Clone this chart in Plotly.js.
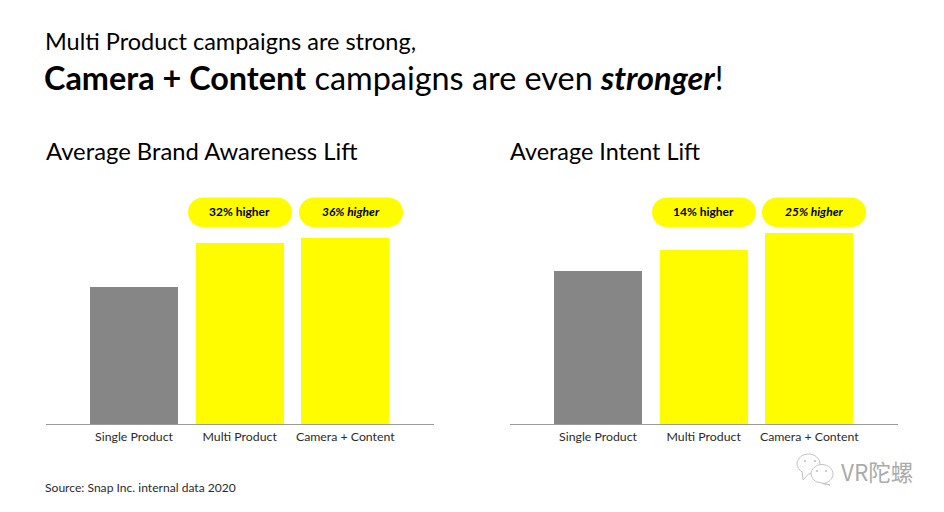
<!DOCTYPE html>
<html>
<head>
<meta charset="utf-8">
<script src="https://cdn.plot.ly/plotly-3.0.1.min.js"></script>
<style>html,body{margin:0;padding:0;background:#fff}#c{width:944px;height:512px}text{font-variant-ligatures:none}</style>
</head>
<body>
<div id="c"></div>
<script>
const categories = ["Single Product", "Multi Product", "Camera + Content"];
const awarenessValues = [100, 132, 136];
const intentValues = [100, 114, 125];
const barColors = ["#868686", "#FFFC00", "#FFFC00"];
const awarenessBadges = ["32% higher", "<i>36% higher</i>"];
const intentBadges = ["14% higher", "<i>25% higher</i>"];

const W = 944, H = 512;
const FONT = "Lato, 'Open Sans', sans-serif";
const px = x => x / W;
const py = y => 1 - y / H;

function pill(x0, x1, y0, y1) {
  const r = (y1 - y0) / 2, k = r * 0.55;
  const X = v => px(v), Y = v => py(v);
  return {
    type: "path", xref: "paper", yref: "paper", layer: "above",
    fillcolor: "#FFFC00", line: {width: 0},
    path: `M${X(x0 + r)},${Y(y0)} L${X(x1 - r)},${Y(y0)} ` +
      `C${X(x1 - r + k)},${Y(y0)} ${X(x1)},${Y(y0 + r - k)} ${X(x1)},${Y(y0 + r)} ` +
      `C${X(x1)},${Y(y0 + r + k)} ${X(x1 - r + k)},${Y(y1)} ${X(x1 - r)},${Y(y1)} ` +
      `L${X(x0 + r)},${Y(y1)} ` +
      `C${X(x0 + r - k)},${Y(y1)} ${X(x0)},${Y(y0 + r + k)} ${X(x0)},${Y(y0 + r)} ` +
      `C${X(x0)},${Y(y0 + r - k)} ${X(x0 + r - k)},${Y(y0)} ${X(x0 + r)},${Y(y0)} Z`
  };
}

function text(x, y, t, size, opts) {
  return Object.assign({
    xref: "paper", yref: "paper", x: px(x), y: py(y), text: t,
    showarrow: false, xanchor: "left", yanchor: "middle",
    font: {family: FONT, size: size, color: "#000"}
  }, opts || {});
}

function badge(cx, t) {
  return text(cx, 211, "<b>" + t + "</b>", 12, {xanchor: "center"});
}

function bubble(cx, cy, rx, ry, tx, ty) {
  const X = v => px(v), Y = v => py(v), k = 0.55;
  return {
    type: "path", xref: "paper", yref: "paper",
    fillcolor: "rgba(255,255,255,0.9)", line: {color: "#c4c4c4", width: 1},
    path: `M${X(cx - rx)},${Y(cy)} ` +
      `C${X(cx - rx)},${Y(cy - k * ry)} ${X(cx - k * rx)},${Y(cy - ry)} ${X(cx)},${Y(cy - ry)} ` +
      `C${X(cx + k * rx)},${Y(cy - ry)} ${X(cx + rx)},${Y(cy - k * ry)} ${X(cx + rx)},${Y(cy)} ` +
      `C${X(cx + rx)},${Y(cy + k * ry)} ${X(cx + k * rx)},${Y(cy + ry)} ${X(cx)},${Y(cy + ry)} ` +
      `L${X(tx)},${Y(ty)} L${X(cx - rx * 0.55)},${Y(cy + ry * 0.8)} ` +
      `C${X(cx - rx * 0.8)},${Y(cy + ry * 0.6)} ${X(cx - rx)},${Y(cy + ry * 0.3)} ${X(cx - rx)},${Y(cy)} Z`
  };
}

function dot(cx, cy) {
  return {type: "circle", xref: "paper", yref: "paper",
    x0: px(cx - 1), x1: px(cx + 1), y0: py(cy - 1), y1: py(cy + 1),
    fillcolor: "#bdbdbd", line: {width: 0}};
}

const barWidth = 0.833;
const traces = [
  {type: "bar", x: categories, y: awarenessValues, marker: {color: barColors, line: {width: 0}},
   width: barWidth, xaxis: "x", yaxis: "y", hoverinfo: "none"},
  {type: "bar", x: categories, y: intentValues, marker: {color: barColors, line: {width: 0}},
   width: barWidth, xaxis: "x2", yaxis: "y2", hoverinfo: "none"}
];

const xCommon = {
  type: "category", categoryorder: "array", categoryarray: categories,
  range: [-0.833, 2.8395], showgrid: false, zeroline: false,
  showline: false, ticks: "", fixedrange: true, ticklabelstandoff: 4,
  tickfont: {family: FONT, size: 12.3, color: "#2b2b2b"}
};
const yCommon = {visible: false, showgrid: false, zeroline: false, fixedrange: true};

const layout = {
  width: W, height: H,
  margin: {l: 0, r: 0, t: 0, b: 0, pad: 0},
  paper_bgcolor: "#fff", plot_bgcolor: "rgba(0,0,0,0)",
  showlegend: false, bargap: 0,
  xaxis: Object.assign({}, xCommon, {domain: [px(46), px(434)], anchor: "y"}),
  xaxis2: Object.assign({}, xCommon, {domain: [px(510), px(898)], anchor: "y2"}),
  yaxis: Object.assign({}, yCommon, {domain: [py(424), py(190)], range: [0, 170.8], anchor: "x"}),
  yaxis2: Object.assign({}, yCommon, {domain: [py(424), py(190)], range: [0, 152.9], anchor: "x2"}),
  shapes: [
    {type: "line", xref: "paper", yref: "paper", x0: px(46), x1: px(434), y0: py(424.5), y1: py(424.5),
     line: {color: "#9a9a9a", width: 1}},
    {type: "line", xref: "paper", yref: "paper", x0: px(510), x1: px(898), y0: py(424.5), y1: py(424.5),
     line: {color: "#9a9a9a", width: 1}},
    pill(188, 292, 197.5, 227),
    pill(299, 403, 197.5, 227),
    pill(652, 756, 197.5, 227),
    pill(762, 866, 197.5, 227),
    bubble(808.5, 464, 11.5, 10, 803, 480),
    bubble(822, 474, 11, 9.5, 830, 485),
    dot(805, 461), dot(815, 461), dot(817, 471), dot(826, 471)
  ],
  annotations: [
    text(43, 40.5, "Multi Product campaigns are strong,", 23.5),
    text(42, 77.5, "<b>Camera + Content</b> campaigns are even <b><i>stronger</i></b>!", 32.4),
    text(44, 151, "Average Brand Awareness Lift", 23.8),
    text(508, 151, "Average Intent Lift", 23.4),
    badge(239.5, awarenessBadges[0]),
    badge(350.5, awarenessBadges[1]),
    badge(703.5, intentBadges[0]),
    badge(813.5, intentBadges[1]),
    text(43, 487.5, "Source: Snap Inc. internal data 2020", 12.1, {font: {family: FONT, size: 12.1, color: "#2b2b2b"}}),
    text(839, 471, "VR陀螺", 22.5, {font: {family: "'Noto Sans CJK SC', sans-serif", size: 22.5, color: "#ababab"}})
  ]
};

Plotly.newPlot("c", traces, layout, {displayModeBar: false, staticPlot: true});
</script>
</body>
</html>
